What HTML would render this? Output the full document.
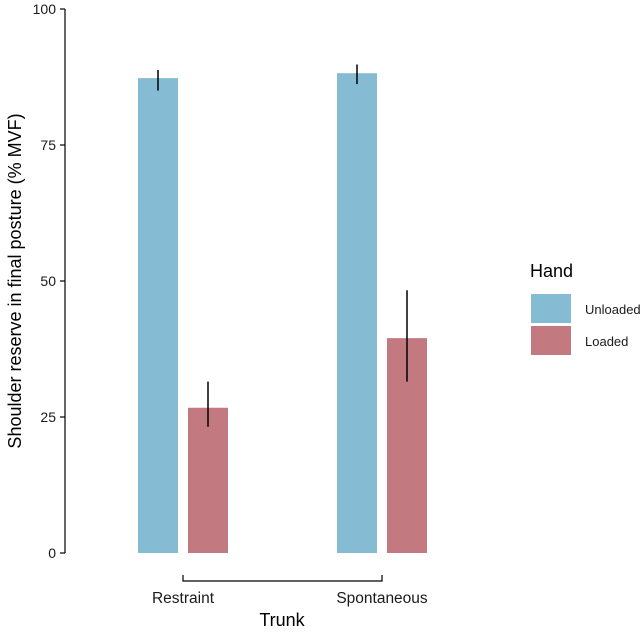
<!DOCTYPE html>
<html><head><meta charset="utf-8"><style>
body{margin:0;background:#fff;font-family:"Liberation Sans",sans-serif}
</style></head><body>
<svg id="chart" width="644" height="630" xmlns="http://www.w3.org/2000/svg">
<g id="axes"></g><g id="bars"></g><g id="errs"></g>
<text x="21" y="281" transform="rotate(-90 21 281)" text-anchor="middle" font-size="18" fill="#000">Shoulder reserve in final posture (% MVF)</text>
<text x="282" y="626" text-anchor="middle" font-size="18" fill="#000">Trunk</text>
<g>
<text x="530" y="277" font-size="18" fill="#000">Hand</text>
<rect x="531" y="294" width="40" height="29" fill="#85BCD4"/>
<text x="585" y="314" font-size="13" fill="#1a1a1a">Unloaded</text>
<rect x="531" y="326" width="40" height="29" fill="#C27A80"/>
<text x="585" y="346" font-size="13" fill="#1a1a1a">Loaded</text>
</g>
</svg>
<script>
const categories=["Restraint","Spontaneous"];
const unloaded=[87.3,88.2];
const unloadedLo=[85.0,86.2];
const unloadedHi=[88.8,89.8];
const loaded=[26.7,39.5];
const loadedLo=[23.2,31.5];
const loadedHi=[31.5,48.3];
const yTicks=[0,25,50,75,100];
const NS="http://www.w3.org/2000/svg";
const y=v=>553-v*5.44;
const xc=i=>183+i*199;
function mk(tag,attrs,parent,text){const e=document.createElementNS(NS,tag);for(const k in attrs)e.setAttribute(k,attrs[k]);if(text!==undefined)e.textContent=text;document.getElementById(parent).appendChild(e);return e;}
const ax=mk("line",{x1:65,x2:65,y1:9,y2:553,stroke:"#000","stroke-width":1.2},"axes");


yTicks.forEach(t=>{
 const tk=mk("line",{x1:60,x2:65,y1:y(t),y2:y(t),stroke:"#000","stroke-width":1.2},"axes");
 
 
 const tl=mk("text",{x:56,y:y(t)+5,"text-anchor":"end","font-size":14,fill:"#1a1a1a"},"axes",String(t));
 
 
});
const br=mk("path",{d:`M${xc(0)},575V581H${xc(1)}V575`,fill:"none",stroke:"#000","stroke-width":1.2},"axes");


categories.forEach((c,i)=>{
 const l=mk("text",{x:xc(i),y:603,"text-anchor":"middle","font-size":15.5,fill:"#1a1a1a"},"axes",c);
 
 
 [[unloaded,unloadedLo,unloadedHi,-45,"#85BCD4","unloaded"],[loaded,loadedLo,loadedHi,5,"#C27A80","loaded"]].forEach(s=>{
  const v=s[0][i],x0=xc(i)+s[3];
  const b=mk("rect",{x:x0,y:y(v),width:40,height:553-y(v),fill:s[4]},"bars");
  
  
  const e=mk("line",{x1:x0+20,x2:x0+20,y1:y(s[1][i]),y2:y(s[2][i]),stroke:"#000","stroke-width":1.5},"errs");
  
  
 });
});
</script>
</body></html>
